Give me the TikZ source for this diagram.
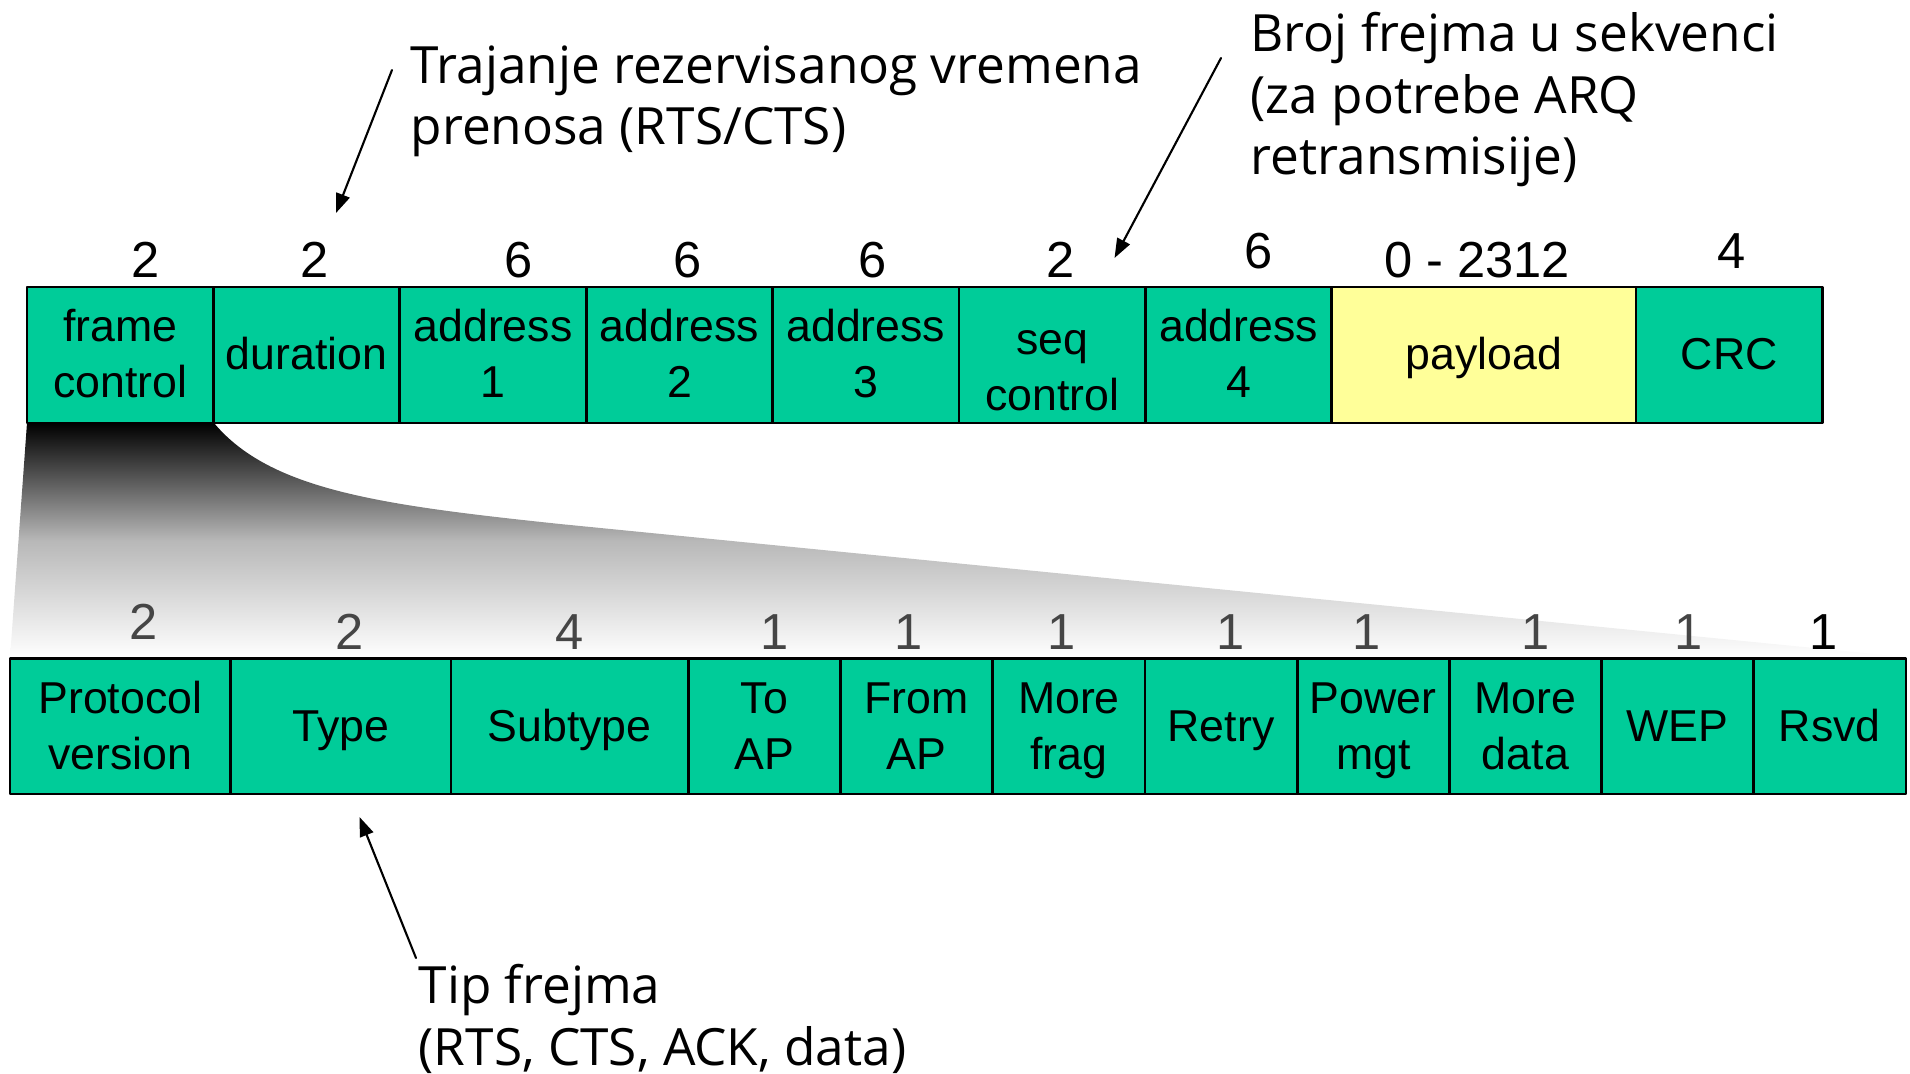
\documentclass[tikz,border=0pt]{standalone}
\usepackage{fontspec}
\setmainfont{Liberation Sans}
\newfontfamily\notefont{Open Sans}
\usepackage{tikz}
\usetikzlibrary{positioning}
\usetikzlibrary{arrows.meta}
\definecolor{zelena}{rgb}{0.,0.8,0.6}
\definecolor{zuta}{rgb}{1.,1.,0.6}
\definecolor{sivo}{rgb}{0.27,0.27,0.27}
\newcommand{\lin}{\rule[-2.8pt]{0pt}{14pt}}
\tikzstyle{polje}=[draw=black,line width=0.8pt,fill=zelena,outer sep=0pt,inner sep=0pt,minimum height=1.36cm,align=center,font=\fontsize{12.7}{15.9}\selectfont]
\tikzstyle{uzak}=[polje,minimum width=1.521cm,minimum height=1.355cm]
\tikzstyle{broj}=[inner sep=0pt,font=\fontsize{14.4}{17}\selectfont]
\tikzstyle{napomena}=[inner sep=0pt,align=left,anchor=base west,font=\notefont\fontsize{14.6}{17.6}\selectfont]

\begin{document}
\begin{tikzpicture}[line cap=round,line join=round,>={Triangle[length=5.5pt,width=4pt]},x=0.01cm,y=-0.01cm]
\useasboundingbox (0,0) rectangle (1910,1073);

% sjena od frame control do donjeg reda
\shade[top color=black,bottom color=white,middle color=white!72!black] (27,423) -- (214,423) .. controls (270,490) and (380,505) .. (560,524) -- (1905,657) -- (10,658) -- cycle;

% gornji red
\node[polje,minimum width=1.863cm,anchor=north west] (fc) at (27,287) {\lin frame\\\lin control};
\node[polje,minimum width=1.863cm,right=0pt of fc] (dur) {\lin duration};
\node[polje,minimum width=1.863cm,right=0pt of dur] (adr1) {\lin address\\\lin 1};
\node[polje,minimum width=1.863cm,right=0pt of adr1] (adr2) {\lin address\\\lin 2};
\node[polje,minimum width=1.863cm,right=0pt of adr2] (adr3) {\lin address\\\lin 3};
\node[polje,minimum width=1.863cm,right=0pt of adr3] (seq) {\lin\rule{0pt}{18.2pt}seq\\\lin control};
\node[polje,minimum width=1.863cm,right=0pt of seq] (adr4) {\lin address\\\lin 4};
\node[polje,minimum width=3.04cm,fill=zuta,right=0pt of adr4] (pay) {\lin payload};
\node[polje,minimum width=1.863cm,right=0pt of pay] (crc) {\lin CRC};

\node[broj] (b1) at (146,260) {2};
\node[broj] (b2) at (315,260) {2};
\node[broj] (b3) at (519,260) {6};
\node[broj] (b4) at (688,260) {6};
\node[broj] (b5) at (873,260) {6};
\node[broj] (b6) at (1061,260) {2};
\node[broj] (b7) at (1259,251) {6};
\node[broj] (b8) at (1477,260) {0 - 2312};
\node[broj] (b9) at (1732,251) {4};

% donji red
\node[polje,minimum width=2.205cm,minimum height=1.355cm,anchor=north west] (pv) at (10,658.5) {\lin Protocol\\\lin version};
\node[polje,minimum width=2.203cm,minimum height=1.355cm,right=0pt of pv] (typ) {\lin Type};
\node[polje,minimum width=2.372cm,minimum height=1.355cm,right=0pt of typ] (sub) {\lin Subtype};
\node[uzak,right=0pt of sub] (toap) {\lin To\\\lin AP};
\node[uzak,right=0pt of toap] (fromap) {\lin From\\\lin AP};
\node[uzak,right=0pt of fromap] (mfrag) {\lin More\\\lin frag};
\node[uzak,right=0pt of mfrag] (retry) {\lin Retry};
\node[uzak,right=0pt of retry] (pwr) {\lin Power\\\lin mgt};
\node[uzak,right=0pt of pwr] (mdata) {\lin More\\\lin data};
\node[uzak,right=0pt of mdata] (wep) {\lin WEP};
\node[uzak,right=0pt of wep] (rsvd) {\lin Rsvd};

\node[broj,text=sivo] (c1) at (143.5,622) {2};
\node[broj,text=sivo] (c2) at (349.5,632) {2};
\node[broj,text=sivo] (c3) at (569.5,632) {4};
\node[broj,text=sivo] (c4) at (775,632) {1};
\node[broj,text=sivo] (c5) at (909,632) {1};
\node[broj,text=sivo] (c6) at (1062,632) {1};
\node[broj,text=sivo] (c7) at (1230.5,632) {1};
\node[broj,text=sivo] (c8) at (1366.4,632) {1};
\node[broj,text=sivo] (c9) at (1536,632) {1};
\node[broj,text=sivo] (c10) at (1689,632) {1};
\node[broj] (c11) at (1824,632) {1};

% napomene
\node[napomena] (trajanje) at (410,145) {Trajanje rezervisanog vremena\\prenosa (RTS/CTS)};
\node[napomena] (brojfr) at (1250,175) {Broj frejma u sekvenci\\(za potrebe ARQ\\retransmisije)};
\node[napomena] (tipfr) at (418,1065) {Tip frejma\\(RTS, CTS, ACK, data)};

\coordinate (s1) at (392,70);
\coordinate (v1) at (336,213);
\coordinate (s2) at (1221,58);
\coordinate (v2) at (1114.5,258);
\coordinate (s3) at (416,958);
\coordinate (v3) at (359.5,817);
\draw[->,line width=0.6pt] (s1) -- (v1);
\draw[->,line width=0.6pt] (s2) -- (v2);
\draw[->,line width=0.6pt] (s3) -- (v3);
\end{tikzpicture}
\end{document}
